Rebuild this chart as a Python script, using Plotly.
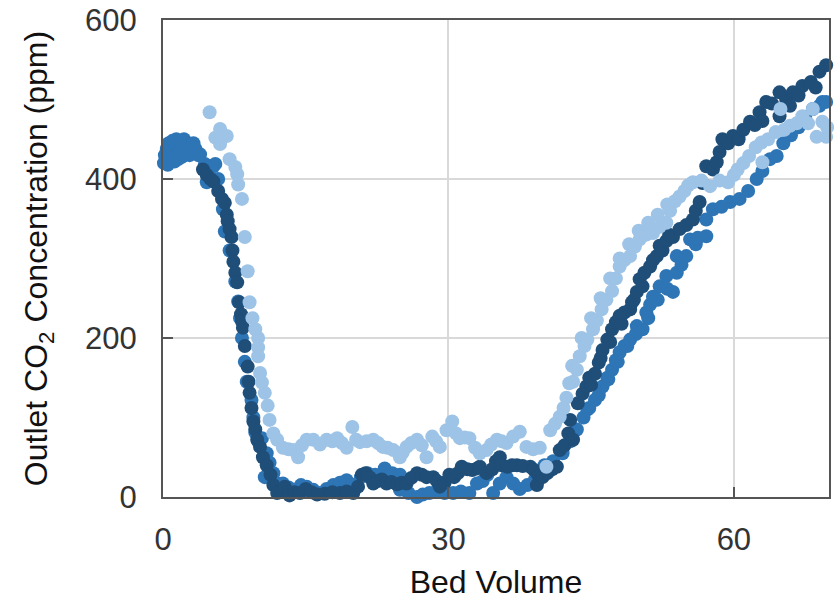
import plotly.graph_objects as go

# ---- data ----
dark_x = [4.2,4.6,5.0,5.3,5.8,6.2,6.5,6.7,6.8,7.0,7.2,7.3,7.4,7.6,7.8,8.0,8.2,8.3,8.4,8.6,8.9,9.0,9.1,9.3,9.5,9.7,9.9,10.2,10.5,10.9,11.3,11.6,12.0,12.4,12.8,13.3,13.8,14.4,15.0,15.6,16.2,17.0,17.8,18.6,19.3,20.0,20.5,20.9,21.3,21.7,22.1,22.6,23.0,23.5,24.0,24.6,25.1,25.6,26.1,26.7,27.2,27.7,28.4,28.8,29.1,29.6,30.1,30.6,31.0,31.4,32.0,32.5,33.0,33.3,34.0,34.6,35.0,35.4,35.6,36.2,36.7,37.2,37.8,38.6,39.0,39.4,39.3,39.9,40.4,40.9,41.4,41.7,42.2,42.6,42.8,43.1,43.6,44.1,44.5,44.8,45.0,45.4,45.8,46.0,46.2,46.7,47.0,47.2,47.6,48.0,48.2,48.5,49.1,49.3,49.5,49.8,50.1,50.4,50.6,51.2,51.5,51.9,52.2,52.5,52.9,53.2,53.6,54.3,55.0,55.7,56.0,56.4,56.7,57.1,57.8,58.2,58.5,58.8,59.4,59.9,60.5,61.0,61.7,62.2,62.7,63.0,63.4,64.0,64.8,64.8,65.5,65.9,66.2,66.8,67.2,68.1,68.6,69.0,69.7]
dark_y = [412,405,400,397,385,375,370,355,347,337,327,310,296,282,270,245,230,221,213,190,164,145,131,112,95,85,72,63,50,40,28,15,5,8,13,2,6,5,10,6,3,4,6,5,7,5,13,28,30,25,17,20,22,17,19,16,18,17,24,30,28,25,25,20,13,18,28,25,30,38,35,34,36,38,30,35,45,50,40,38,40,40,39,38,34,28,15,25,30,35,38,59,65,80,97,72,118,130,139,150,141,155,169,175,185,198,195,211,220,228,218,232,236,245,248,258,274,265,282,290,298,303,316,310,322,330,327,337,342,349,360,371,395,416,412,421,434,450,445,454,450,462,472,468,484,473,497,495,509,479,500,492,509,505,517,522,515,535,543]

mid_x = [0.1,0.2,0.3,0.4,0.5,0.6,0.7,0.8,0.9,1.0,1.1,1.2,1.3,1.4,1.5,1.6,1.7,1.8,1.9,2.0,2.1,2.2,2.4,2.6,2.8,3.0,3.2,3.4,3.7,3.9,4.4,4.6,4.9,5.3,5.5,5.8,6.3,6.5,7.0,7.6,7.9,8.1,8.3,8.6,8.8,9.3,9.5,9.7,10.0,10.4,10.7,10.9,11.2,11.6,12.0,12.6,13.2,13.8,14.5,15.1,15.8,16.5,17.2,17.9,18.6,19.3,20.0,20.8,21.5,22.3,23.3,24.1,24.9,24.9,25.8,26.7,27.3,28.0,28.8,29.6,30.5,31.3,32.2,33.0,33.6,34.1,34.7,35.4,36.1,36.8,37.5,38.3,39.1,40.1,41.0,42.0,42.8,43.5,44.2,44.6,44.8,45.4,45.8,46.2,46.7,46.8,47.2,47.6,47.8,48.0,48.5,48.8,49.1,49.7,49.8,50.4,50.8,51.0,51.2,51.5,52.0,52.2,52.9,53.0,53.6,54.0,54.0,54.5,55.0,55.4,56.0,56.2,57.1,57.1,57.8,58.7,59.6,60.6,61.5,62.4,63.0,63.8,64.5,65.2,66.0,66.8,67.5,68.3,69.0,69.3,69.7]
mid_y = [420,430,425,438,418,445,432,428,440,448,435,422,442,450,430,425,438,445,433,428,440,450,445,438,430,440,445,438,430,431,419,396,416,416,419,400,362,334,310,271,246,225,200,170,145,122,100,81,70,74,25,55,43,30,17,17,12,8,15,13,9,5,10,15,18,21,15,25,30,28,36,30,28,9,5,0,3,5,8,5,5,7,5,17,20,28,5,17,25,17,10,15,22,40,45,55,70,85,100,110,112,122,128,139,150,148,160,172,170,182,190,190,198,205,215,211,232,225,242,252,248,265,278,262,258,282,303,292,303,324,318,326,328,349,362,365,371,375,385,400,410,425,429,445,455,465,478,488,492,497,497]

light_x = [4.9,5.5,6.0,6.7,6.0,7.0,7.6,7.8,7.9,8.3,8.6,8.9,9.1,9.4,9.7,10.0,10.0,10.0,10.2,10.4,10.7,11.0,11.2,11.6,12.0,12.6,13.2,13.7,14.2,14.6,15.1,15.8,16.5,17.2,17.8,18.3,18.8,19.3,19.9,20.3,20.7,21.4,22.1,22.6,23.1,23.6,24.2,24.9,25.2,25.6,26.1,26.7,27.2,27.7,28.3,28.7,29.1,29.8,30.4,30.8,31.2,31.7,32.2,32.8,33.3,34.0,34.5,35.1,35.6,36.1,36.8,37.5,38.2,38.9,39.6,40.3,40.7,41.2,41.7,42.1,42.4,42.7,43.0,43.1,43.5,43.8,44.0,44.3,44.6,45.0,45.2,45.6,46.0,46.1,46.6,47.0,47.2,47.6,48.0,48.0,48.5,49.0,49.1,49.6,50.0,50.1,50.8,51.0,51.5,52.0,52.2,52.9,53.0,53.3,53.8,54.3,54.8,55.2,55.7,56.6,57.5,58.5,59.4,60.0,60.4,61.0,61.6,62.3,62.9,63.0,63.6,64.4,64.9,65.3,65.9,66.6,67.2,67.8,68.3,68.7,69.3,69.7,69.8]
light_y = [484,452,463,454,444,425,415,406,393,375,327,284,245,225,211,200,188,177,156,144,131,115,97,80,72,62,60,59,50,65,72,72,66,72,70,74,68,62,88,72,69,70,72,68,63,62,59,50,56,63,68,72,65,50,76,70,63,84,95,80,74,75,74,62,55,59,66,72,70,68,76,82,63,60,62,38,84,92,101,112,125,143,165,145,160,177,200,190,198,225,211,222,250,236,248,275,259,275,290,300,298,318,303,315,335,324,330,345,332,355,340,345,368,360,372,378,385,392,396,398,391,398,396,405,412,420,429,440,446,421,450,459,488,462,467,470,479,470,488,453,472,453,465]

x_ticks = [0, 30, 60]
y_ticks = [0, 200, 400, 600]

series = [
    (mid_x, mid_y, "#2e75b6"),
    (dark_x, dark_y, "#1f4e79"),
    (light_x, light_y, "#9dc3e6"),
]

fig = go.Figure()
for xs, ys, col in series:
    fig.add_trace(go.Scatter(x=xs, y=ys, mode="markers",
                             marker=dict(size=14, color=col, line=dict(width=0)),
                             showlegend=False, cliponaxis=False))

font_family = "Liberation Sans, Arial, Helvetica, sans-serif"
axis_common = dict(
    showline=True, linecolor="#555555", linewidth=2, mirror=True,
    ticks="inside", ticklen=10, tickcolor="#555555", tickwidth=1.5,
    showgrid=True, gridcolor="#d9d9d9", gridwidth=1.5, zeroline=False,
    tickfont=dict(family=font_family, size=31, color="#333333"),
)

fig.update_xaxes(range=[0, 70], tickvals=x_ticks, ticklabelstandoff=14,
                 title=dict(text="Bed Volume", standoff=16,
                            font=dict(family=font_family, size=32, color="#111111")),
                 **axis_common)
fig.update_yaxes(range=[0, 600], tickvals=y_ticks, ticklabelstandoff=18,
                 title=dict(text="Outlet CO<sub>2</sub> Concentration (ppm)", standoff=28,
                            font=dict(family=font_family, size=32, color="#111111")),
                 **axis_common)

fig.update_layout(width=834, height=600, margin=dict(l=163, r=3, t=20, b=103),
                  plot_bgcolor="white", paper_bgcolor="white")

fig.write_html("out.html")
